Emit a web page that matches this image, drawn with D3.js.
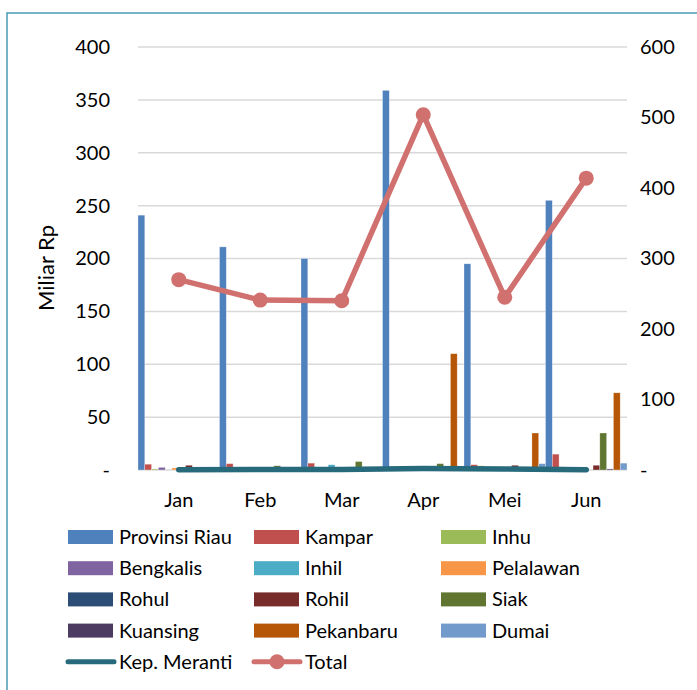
<!DOCTYPE html>
<html>
<head>
<meta charset="utf-8">
<script src="https://cdn.jsdelivr.net/npm/d3@7"></script>
<style>
  body { margin: 0; background: #fff; }
  svg text { font-family: Lato, "Open Sans", sans-serif; fill: #000; }
</style>
</head>
<body>
<div id="chart"></div>
<script>
var months = ["Jan", "Feb", "Mar", "Apr", "Mei", "Jun"];
var barSeries = ["Provinsi Riau", "Kampar", "Inhu", "Bengkalis", "Inhil", "Pelalawan",
                 "Rohul", "Rohil", "Siak", "Kuansing", "Pekanbaru", "Dumai"];
var barColors = ["#4f81bd", "#c0504d", "#9bbb59", "#8064a2", "#4bacc6", "#f79646",
                 "#2c4d75", "#772c2a", "#5f7530", "#4d3b62", "#b65708", "#729aca"];
// values per series, Jan..Jun (Miliar Rp)
var provinsiRiau = [241, 211, 200, 359, 195, 255];
var kampar       = [5.5, 6, 6.5, 0.5, 5, 15];
var inhu         = [1, 0, 0, 3.5, 4, 3];
var bengkalis    = [2.5, 0, 0, 0.5, 3, 2.5];
var inhil        = [0, 0, 5, 0, 0, 0];
var pelalawan    = [2, 0, 0, 0, 0, 0];
var rohul        = [0.5, 0, 0, 0, 0, 0];
var rohil        = [4.5, 0, 0, 3, 4.5, 4.5];
var siak         = [1, 4, 8, 6, 0, 35];
var kuansing     = [0, 0, 0, 0, 0, 1];
var pekanbaru    = [0.5, 0, 0, 110, 35, 73];
var dumai        = [1, 0, 0, 0, 6, 6.5];
var kepMeranti   = [0.3, 0.5, 0.5, 1.5, 1, 0.3];
var total        = [270, 241, 240, 504, 245, 414];
var leftTicks  = [0, 50, 100, 150, 200, 250, 300, 350, 400];
var rightTicks = [0, 100, 200, 300, 400, 500, 600];

var barValues = [provinsiRiau, kampar, inhu, bengkalis, inhil, pelalawan,
                 rohul, rohil, siak, kuansing, pekanbaru, dumai];

var W = 697, H = 690;
var svg = d3.select("#chart").append("svg").attr("width", W).attr("height", H);

// frame
svg.append("rect").attr("x", 7).attr("y", 13).attr("width", 720).attr("height", 720)
    .attr("fill", "none").attr("stroke", "#4a9ab4").attr("stroke-width", 1.5);

var x = d3.scaleBand().domain(months).range([138, 627]).paddingInner(0).paddingOuter(0);
var xs = d3.scaleBand().domain(barSeries).range([0, x.bandwidth()]).padding(0);
var y = d3.scaleLinear().domain([0, 400]).range([470, 47]);
var y2 = d3.scaleLinear().domain([0, 600]).range([470, 47]);

// gridlines
svg.append("g").selectAll("line").data(leftTicks).join("line")
    .attr("x1", 138).attr("x2", 627)
    .attr("y1", function(d) { return y(d); }).attr("y2", function(d) { return y(d); })
    .attr("stroke", "#d9d9d9").attr("stroke-width", 1.5);

// left axis
var yAxis = d3.axisLeft(y).tickValues(leftTicks).tickSize(0).tickPadding(0)
    .tickFormat(function(d) { return d === 0 ? "-" : d; });
var gl = svg.append("g").attr("transform", "translate(110,0)").call(yAxis);
gl.select(".domain").remove();
gl.selectAll("text").attr("font-size", 20).style("font-family", "Lato, sans-serif");

// right axis
var y2Axis = d3.axisRight(y2).tickValues(rightTicks).tickSize(0).tickPadding(0)
    .tickFormat(function(d) { return d === 0 ? "-" : d; });
var gr = svg.append("g").attr("transform", "translate(640,0)").call(y2Axis);
gr.select(".domain").remove();
gr.selectAll("text").attr("font-size", 20).style("font-family", "Lato, sans-serif");

// x axis labels
var xAxis = d3.axisBottom(x).tickSize(0).tickPadding(0);
var gx = svg.append("g").attr("transform", "translate(0,493)").call(xAxis);
gx.select(".domain").remove();
gx.selectAll("text").attr("font-size", 20).style("font-family", "Lato, sans-serif");

// y title
svg.append("text").attr("transform", "translate(46,268) rotate(-90)")
    .attr("text-anchor", "middle").attr("dy", "0.35em").attr("font-size", 22).text("Miliar Rp");

// bars
var groups = svg.append("g").selectAll("g").data(months).join("g")
    .attr("transform", function(d) { return "translate(" + x(d) + ",0)"; });
groups.selectAll("rect")
    .data(function(m, mi) {
      return barSeries.map(function(s, si) { return {s: s, si: si, v: barValues[si][mi]}; });
    })
    .join("rect")
    .attr("x", function(d) { return xs(d.s); })
    .attr("width", xs.bandwidth())
    .attr("y", function(d) { return y(d.v); })
    .attr("height", function(d) { return y(0) - y(d.v); })
    .attr("fill", function(d) { return barColors[d.si]; })
    .attr("stroke", "#ffffff").attr("stroke-opacity", 0.5).attr("stroke-width", 0.6);

// Kep. Meranti line
var lineL = d3.line()
    .x(function(d, i) { return x(months[i]) + x.bandwidth() / 2; })
    .y(function(d) { return y(d); });
svg.append("path").datum(kepMeranti).attr("d", lineL)
    .attr("fill", "none").attr("stroke", "#276a7c").attr("stroke-width", 5.5)
    .attr("stroke-linecap", "round").attr("stroke-linejoin", "round");

// Total line (right axis)
var lineR = d3.line()
    .x(function(d, i) { return x(months[i]) + x.bandwidth() / 2; })
    .y(function(d) { return y2(d); });
svg.append("path").datum(total).attr("d", lineR)
    .attr("fill", "none").attr("stroke", "#d0716f").attr("stroke-width", 5.5)
    .attr("stroke-linejoin", "round");
svg.append("g").selectAll("circle").data(total).join("circle")
    .attr("cx", function(d, i) { return x(months[i]) + x.bandwidth() / 2; })
    .attr("cy", function(d) { return y2(d); })
    .attr("r", 7.5).attr("fill", "#d0716f");

// legend
var legendItems = barSeries.map(function(s, i) { return {name: s, color: barColors[i], type: "bar"}; });
legendItems.push({name: "Kep. Meranti", color: "#276a7c", type: "line"});
legendItems.push({name: "Total", color: "#d0716f", type: "marker"});
var colX = [68, 254, 441];
var leg = svg.append("g").selectAll("g").data(legendItems).join("g")
    .attr("transform", function(d, i) {
      return "translate(" + colX[i % 3] + "," + (537 + Math.floor(i / 3) * 31.2) + ")";
    });
leg.filter(function(d) { return d.type === "bar"; }).append("rect")
    .attr("x", 0).attr("y", -7).attr("width", 45).attr("height", 14)
    .attr("fill", function(d) { return d.color; });
leg.filter(function(d) { return d.type !== "bar"; }).append("line")
    .attr("x1", 0).attr("x2", 46).attr("y1", 0).attr("y2", 0)
    .attr("stroke", function(d) { return d.color; }).attr("stroke-width", 5)
    .attr("stroke-linecap", "round");
leg.filter(function(d) { return d.type === "marker"; }).append("circle")
    .attr("cx", 23).attr("cy", 0).attr("r", 7.5).attr("fill", function(d) { return d.color; });
leg.append("text").attr("x", 51).attr("y", 0).attr("dy", "0.35em")
    .attr("font-size", 20).text(function(d) { return d.name; });
</script>
</body>
</html>
